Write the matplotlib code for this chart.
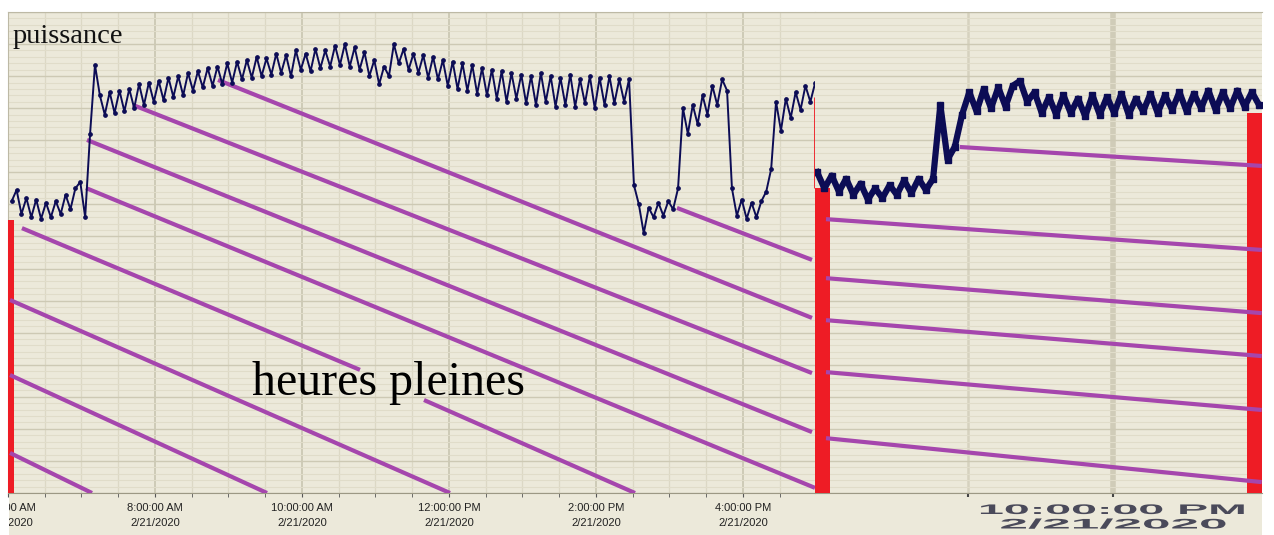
import matplotlib
matplotlib.use("Agg")
import matplotlib.pyplot as plt
from matplotlib.patches import Rectangle
from matplotlib.patheffects import AbstractPathEffect
from matplotlib.ticker import MultipleLocator, FixedLocator, NullFormatter
from matplotlib.transforms import Affine2D, Bbox, TransformedBbox

W, H = 1274, 535

# left panel: one reading every 4 min from 6:03 AM (hours, arbitrary power units)
left_start = 6.05
left_step = 4 / 60
left_power = [
    91, 94.5, 87, 92, 86, 91.5, 85.5, 90.5, 86, 91,
    87, 93, 88.5, 95, 97, 86, 112, 133.5, 124, 118,
    125, 118.5, 125.5, 119, 126, 120, 127.5, 121, 128, 122,
    128.5, 122.5, 129.5, 123.5, 130, 124, 131, 125.5, 131.5, 126.5,
    132.5, 127, 133, 127.5, 134, 128, 134.5, 129, 135, 129.5,
    136, 130, 135.5, 130.5, 137, 131, 136.5, 130, 138, 132,
    137, 131.5, 138.5, 132.5, 138, 133, 139.5, 133.5, 140, 133,
    139, 132, 137.5, 130, 135, 127.5, 133, 130, 140, 134,
    138.5, 132, 137, 131, 136.5, 129.5, 136, 129, 135, 127,
    134.5, 126, 134, 125.5, 133.5, 124.5, 132.5, 124, 132, 123,
    131.5, 122, 131, 123, 130.5, 121.5, 130, 121, 131, 122,
    130, 120.5, 129.5, 121, 130.5, 120.5, 129, 121.5, 130, 120,
    129.5, 121, 130, 121.5, 129, 122, 129, 96, 90, 81,
    89, 86, 90.5, 86.5, 91, 88.5, 95, 120, 112, 121,
    115, 124, 118, 127, 121, 129, 125.5, 95, 86.5, 91.5,
    85.5, 90.5, 86, 91, 94, 101, 122, 113, 123, 117,
    125, 119.5, 127, 122, 128,
]

# right panel (zoomed evening view): one reading every 3 min
right_start = 19.96
right_step = 3 / 60
right_power = [
    100, 95, 99, 94, 98, 93, 96.5, 91.5, 95, 92,
    96, 93, 97.5, 93.5, 98, 94.5, 98, 121, 104, 108,
    118, 125, 119, 126, 120, 126.5, 120.5, 127, 128.5, 122,
    125, 118.5, 123.5, 118, 124, 118.5, 123, 117.5, 124, 118,
    123.5, 118.5, 124.5, 118, 123, 119, 124.5, 118.5, 124, 119.5,
    125, 119, 124.5, 120, 125.5, 119.5, 125, 120, 125.5, 120.5,
    125, 121,
]

left_ticks = [6, 8, 10, 12, 14, 16]
left_tick_labels = ["6:00:00 AM\n2/21/2020", "8:00:00 AM\n2/21/2020",
                    "10:00:00 AM\n2/21/2020", "12:00:00 PM\n2/21/2020",
                    "2:00:00 PM\n2/21/2020", "4:00:00 PM\n2/21/2020"]
right_ticks = [21, 22]
right_label_time = "10:00:00 PM"
right_label_date = "2/21/2020"

# hatching lines (start hour, end hour, start power, end power)
left_slant_t0 = [6.027, 6.027, 6.027, 6.190, 11.660, 7.061, 7.075, 7.701, 8.857, 15.102]
left_slant_t1 = [7.143, 9.524, 12.014, 10.789, 14.531, 16.980, 16.939, 16.939, 16.939, 16.939]
left_slant_p0 = [12.5, 36.8, 60.2, 82.6, 29.0, 95.1, 110.1, 121.0, 128.8, 88.9]
left_slant_p1 = [0, 0, 0, 38.4, 0, 1.6, 19.0, 37.4, 54.6, 72.7]

right_slant_t0 = [20.945, 20.021, 20.021, 20.021, 20.021, 20.021]
right_slant_t1 = [23.028, 23.028, 23.028, 23.028, 23.028, 23.028]
right_slant_p0 = [107.9, 85.4, 67.0, 53.9, 37.7, 17.1]
right_slant_p1 = [102.0, 75.8, 56.1, 42.7, 25.9, 3.4]

# red markers (start hour, end hour, top)
left_red = [(6.0, 6.082, 85.1)]
right_red = [(19.945, 20.048, 95.1), (22.924, 23.03, 118.5)]

BEIGE = "#ece9da"
NAVY = "#0c0c55"
PURPLE = "#a546ad"
RED = "#ee1c25"


class Stretch(AbstractPathEffect):
    """widen glyphs horizontally around a fixed x (display pixels)"""

    def __init__(self, sx, cx):
        super().__init__()
        self.sx, self.cx = sx, cx

    def draw_path(self, renderer, gc, tpath, affine, rgbFace=None):
        tr = affine + Affine2D().translate(-self.cx, 0).scale(self.sx, 1).translate(self.cx, 0)
        renderer.draw_path(gc, tpath, tr, rgbFace)


fig = plt.figure(figsize=(W / 100, H / 100), dpi=100, facecolor="white")
fig.patches.append(Rectangle((9 / W, 0), (1262 - 9) / W, (H - 12) / H,
                             transform=fig.transFigure, facecolor=BEIGE,
                             edgecolor="none", zorder=-10))

ax1 = fig.add_axes([8 / W, 42 / H, 807 / W, 481 / H])
ax2 = fig.add_axes([815 / W, 42 / H, 447 / W, 481 / H])

for ax in (ax1, ax2):
    ax.set_facecolor(BEIGE)
    ax.set_ylim(0, 150)
    ax.yaxis.set_major_locator(MultipleLocator(10))
    ax.yaxis.set_minor_locator(MultipleLocator(2))
    ax.tick_params(axis="y", which="both", left=False, labelleft=False)
    ax.grid(axis="y", which="major", color="#cdc9b4", lw=1.0)
    ax.grid(axis="y", which="minor", color="#e0dcc9", lw=0.8)
    ax.set_axisbelow(True)
    for s in ax.spines.values():
        s.set_color("#bdb9a5")
    ax.spines["right"].set_visible(False)

ax2.spines["left"].set_visible(False)
ax1.spines["bottom"].set_color("#9c9884")
ax2.spines["bottom"].set_color("#9c9884")

# left panel
ax1.set_xlim(6.0, 16.98)
ax1.xaxis.set_major_locator(FixedLocator(left_ticks))
ax1.xaxis.set_minor_locator(MultipleLocator(0.5))
ax1.set_xticklabels(left_tick_labels, fontfamily="Liberation Sans", fontsize=8,
                    color="#222222", linespacing=1.65)
ax1.tick_params(axis="x", which="both", direction="out", length=3,
                color="#555555", pad=4)
ax1.grid(axis="x", which="major", color="#c9c5b0", lw=1.2)
ax1.grid(axis="x", which="minor", color="#dcd8c5", lw=0.9)

first = ax1.xaxis.get_major_ticks()[0].label1
first.set_clip_box(TransformedBbox(Bbox([[9 / W, 0], [1, 1]]), fig.transFigure))
first.set_clip_on(True)

for t0, t1, top in left_red:
    ax1.bar(t0, top, width=t1 - t0, align="edge", color=RED, zorder=3, clip_on=False)
ax1.vlines(16.975, 95, 123.5, color=RED, lw=2, zorder=3, clip_on=False)

for t0, t1, p0, p1 in zip(left_slant_t0, left_slant_t1, left_slant_p0, left_slant_p1):
    ax1.plot([t0, t1], [p0, p1], color=PURPLE, lw=3, solid_capstyle="butt", zorder=4)

left_t = [left_start + i * left_step for i in range(len(left_power))]
ax1.plot(left_t, left_power, color=NAVY, lw=1.4, marker="o", ms=2.4, zorder=5)

# right panel
ax2.set_xlim(19.945, 23.03)
ax2.xaxis.set_major_locator(FixedLocator(right_ticks))
ax2.xaxis.set_major_formatter(NullFormatter())
ax2.tick_params(axis="x", direction="out", length=3, color="#444444", width=1.5)
ax2.axvline(right_ticks[0], color="#d6d2bf", lw=1.8, zorder=0.5)
ax2.axvline(right_ticks[1], color="#d0ccb8", lw=4, zorder=0.5)

for t0, t1, top in right_red:
    ax2.bar(t0, top, width=t1 - t0, align="edge", color=RED, zorder=3, clip_on=False)

for t0, t1, p0, p1 in zip(right_slant_t0, right_slant_t1, right_slant_p0, right_slant_p1):
    ax2.plot([t0, t1], [p0, p1], color=PURPLE, lw=3, solid_capstyle="butt", zorder=4)

right_t = [right_start + j * right_step for j in range(len(right_power))]
ax2.plot(right_t, right_power, color=NAVY, lw=4.5, marker="s", ms=4.5, zorder=5)

# stretched axis label of the zoomed panel
cx = 1113
t_time = fig.text(cx / W, (H - 510) / H, right_label_time, ha="center", va="center",
                  fontfamily="Liberation Sans", fontweight="bold", fontsize=10,
                  color="#4a4a5a")
t_date = fig.text(cx / W, (H - 524.5) / H, right_label_date, ha="center", va="center",
                  fontfamily="Liberation Sans", fontweight="bold", fontsize=10,
                  color="#4a4a5a")
fig.canvas.draw()
for txt, target in ((t_time, 270), (t_date, 227)):
    w = txt.get_window_extent().width
    txt.set_path_effects([Stretch(target / w, cx)])

fig.text(13 / W, (H - 43) / H, "puissance", ha="left", va="baseline",
         fontfamily="Liberation Serif", fontsize=20.5, color="#111111")
fig.text(252 / W, (H - 395) / H, "heures pleines", ha="left", va="baseline",
         fontfamily="Liberation Serif", fontsize=34.5, color="#000000", zorder=6)

fig.savefig("out.png", dpi=100, facecolor="white")
